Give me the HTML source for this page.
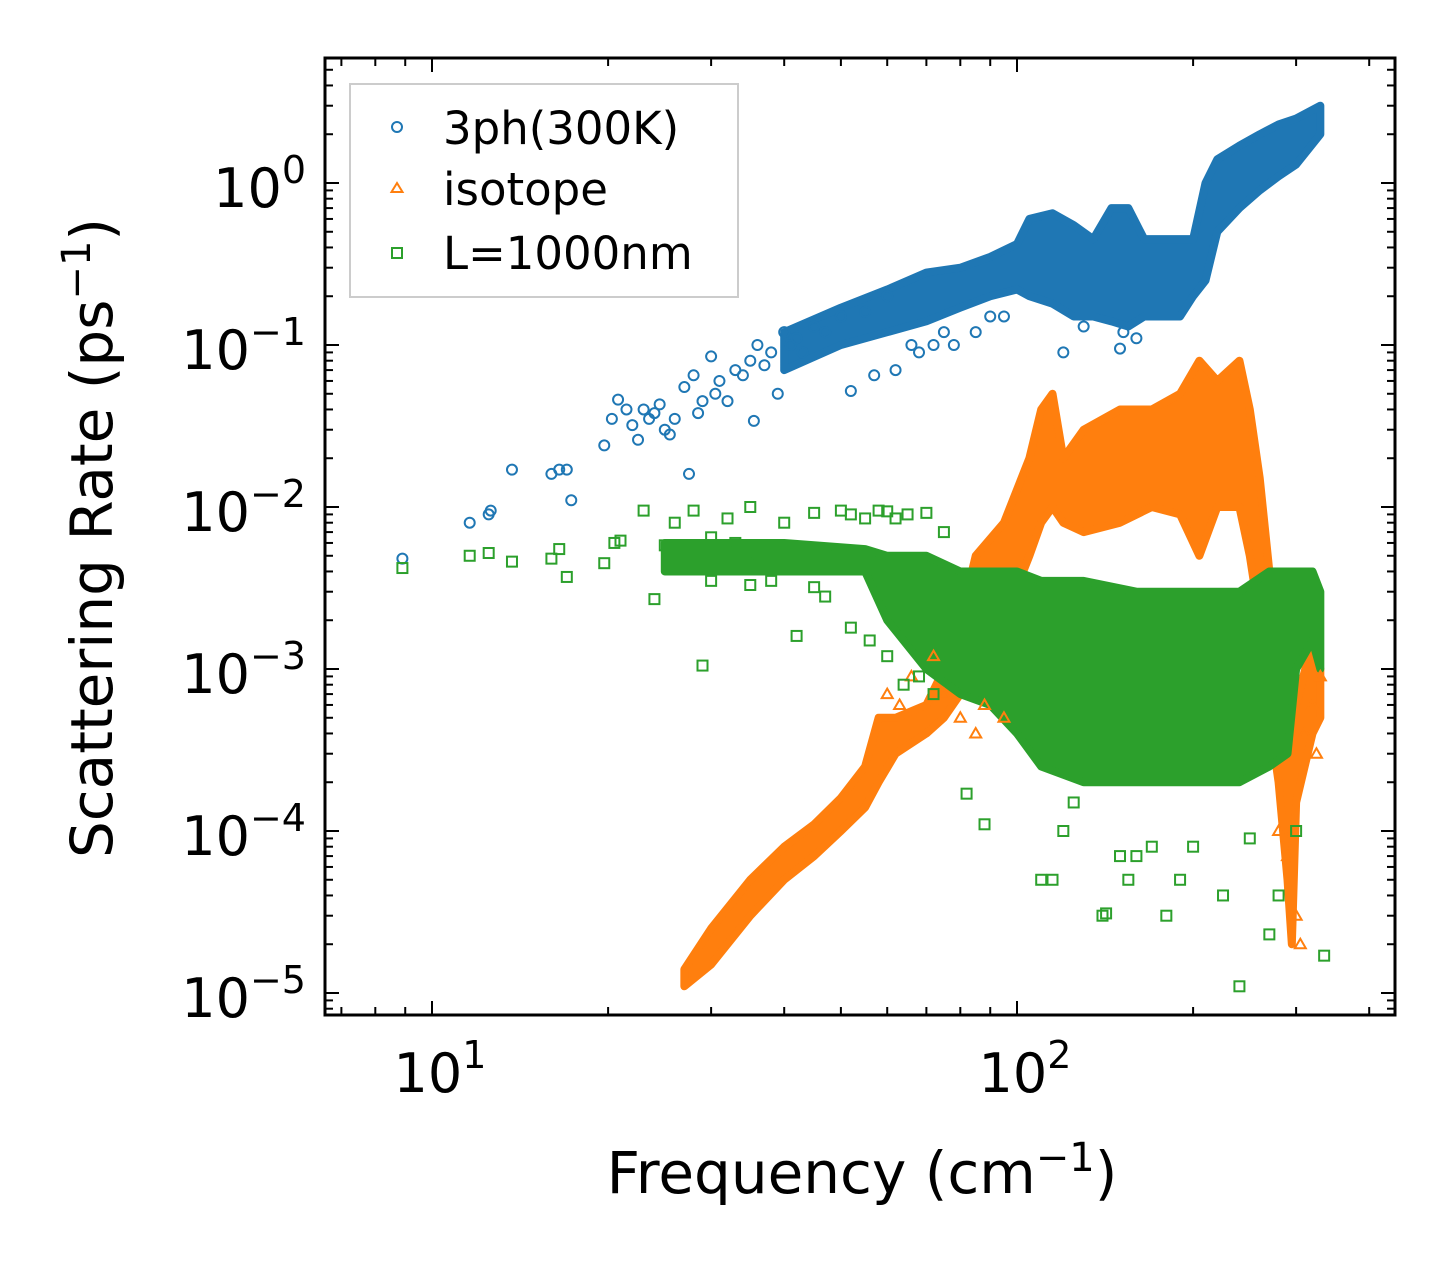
<!DOCTYPE html>
<html><head><meta charset="utf-8">
<style>
html,body{margin:0;padding:0;background:#fff;}
svg{display:block;font-family:"DejaVu Sans","Liberation Sans",sans-serif;}
</style></head>
<body>
<svg id="chart" width="1455" height="1265" viewBox="0 0 1455 1265" xmlns="http://www.w3.org/2000/svg">
<g id="bands"></g>
<g id="pts"></g>
<g id="axes"></g>
<text x="862" y="1193" font-size="58" text-anchor="middle">Frequency (cm<tspan dy="-22" font-size="40">−1</tspan><tspan dy="22">)</tspan></text>
<text transform="translate(112,538) rotate(-90)" font-size="58" text-anchor="middle">Scattering Rate (ps<tspan dy="-22" font-size="40">−1</tspan><tspan dy="22">)</tspan></text>
<g>
<rect x="350" y="84" width="388" height="213" fill="#fff" stroke="#ccc" stroke-width="2"/>
<circle cx="397" cy="127" r="5" fill="none" stroke="#1f77b4" stroke-width="2"/>
<text x="443" y="144" font-size="45">3ph(300K)</text>
<polygon points="397,183 402.5,192 391.5,192" fill="none" stroke="#ff7f0e" stroke-width="2"/>
<text x="443" y="205" font-size="45">isotope</text>
<rect x="392" y="248" width="10" height="10" fill="none" stroke="#2ca02c" stroke-width="2"/>
<text x="443" y="269" font-size="45">L=1000nm</text>
</g>
</svg>
<script>
// ---- data ----
const xTickDecades = [1, 2];
const yTickDecades = [0, -1, -2, -3, -4, -5];
const blueX = [8.9,11.6,12.5,12.6,13.7,16,16.5,17,17.3,19.7,20.3,20.8,21.5,22,22.5,23,23.5,24,24.5,25,25.5,26,27,27.5,28,28.5,29,30,30.5,31,32,33,34,35,35.5,36,37,38,39,40,41,42,43,45,47,50,52,55,57,60,62,66,68,72,75,78,85,90,95,120,130,150,152,160];
const blueY = [0.0048,0.008,0.009,0.0095,0.017,0.016,0.017,0.017,0.011,0.024,0.035,0.046,0.04,0.032,0.026,0.04,0.035,0.038,0.043,0.03,0.028,0.035,0.055,0.016,0.065,0.038,0.045,0.085,0.05,0.06,0.045,0.07,0.065,0.08,0.034,0.1,0.075,0.09,0.05,0.12,0.1,0.11,0.09,0.13,0.12,0.15,0.052,0.16,0.065,0.2,0.07,0.1,0.09,0.1,0.12,0.1,0.12,0.15,0.15,0.09,0.13,0.095,0.12,0.11];
const blueBandX = [40,50,60,70,80,90,100,105,115,125,135,145,155,165,175,190,200,210,220,240,260,280,300,330];
const blueBandLo = [0.07,0.1,0.12,0.14,0.17,0.2,0.22,0.2,0.18,0.15,0.15,0.14,0.13,0.15,0.15,0.15,0.2,0.25,0.5,0.7,0.9,1.1,1.3,2.0];
const blueBandHi = [0.12,0.17,0.22,0.28,0.3,0.35,0.42,0.6,0.65,0.55,0.45,0.7,0.7,0.45,0.45,0.45,0.45,1.0,1.4,1.7,2.0,2.3,2.5,3.0];
const orangeX = [60,63,66,72,75,80,85,88,95,280,290,300,305,310,320,325,330];
const orangeY = [0.0007,0.0006,0.0009,0.0012,0.0007,0.0005,0.0004,0.0006,0.0005,0.0001,0.00007,0.00003,0.00002,0.0004,0.0006,0.0003,0.0009];
const orangeBandX = [27,30,35,40,45,50,55,58,62,70,75,80,85,95,105,110,115,120,130,150,170,190,205,220,240,250,260,270,280,290,295,300,320,330];
const orangeBandLo = [1.1e-5,1.5e-5,3e-5,5e-5,7e-5,1e-4,1.4e-4,2e-4,3e-4,4e-4,5e-4,7e-4,1e-3,2e-3,5e-3,8e-3,1e-2,8e-3,7e-3,8e-3,1e-2,9e-3,5e-3,1e-2,1e-2,5e-3,2e-3,5e-4,2e-4,5e-5,2e-5,1.5e-4,4e-4,5e-4];
const orangeBandHi = [1.4e-5,2.5e-5,5e-5,8e-5,1.1e-4,1.6e-4,2.5e-4,5e-4,5e-4,6e-4,1e-3,2e-3,5e-3,8e-3,2e-2,4e-2,5e-2,2e-2,3e-2,4e-2,4e-2,5e-2,8e-2,6e-2,8e-2,4e-2,1.5e-2,4e-3,2e-3,1e-3,5e-4,6e-4,1.5e-3,1e-3];
const greenX = [8.9,11.6,12.5,13.7,16,16.5,17,19.7,20.5,21,23,24,25,26,28,29,30,32,33,35,36,38,40,42,45,47,50,52,55,58,60,62,65,70,75,82,88,110,115,120,125,140,142,150,155,160,170,180,190,200,225,240,250,270,280,300,335,30,35,45,52,56,60,64,68,72];
const greenY = [0.0042,0.005,0.0052,0.0046,0.0048,0.0055,0.0037,0.0045,0.006,0.0062,0.0095,0.0027,0.0058,0.008,0.0095,0.00105,0.0065,0.0085,0.006,0.01,0.0045,0.0035,0.008,0.0016,0.0092,0.0028,0.0095,0.009,0.0085,0.0095,0.0094,0.0085,0.009,0.0092,0.007,0.00017,0.00011,0.00005,0.00005,0.0001,0.00015,0.00003,0.000031,0.00007,0.00005,0.00007,0.00008,0.00003,0.00005,0.00008,0.00004,0.000011,0.00009,0.000023,0.00004,0.0001,0.000017,0.0035,0.0033,0.0032,0.0018,0.0015,0.0012,0.0008,0.0009,0.0007];
const greenBandX = [25,40,55,60,70,80,90,100,110,130,160,200,240,270,290,300,320,330];
const greenBandLo = [4e-3,4e-3,4e-3,2e-3,1e-3,7e-4,6e-4,4e-4,2.5e-4,2e-4,2e-4,2e-4,2e-4,2.5e-4,3e-4,1e-3,1.5e-3,1e-3];
const greenBandHi = [6e-3,6e-3,5.5e-3,5e-3,5e-3,4e-3,4e-3,4e-3,3.5e-3,3.5e-3,3e-3,3e-3,3e-3,4e-3,4e-3,4e-3,4e-3,3e-3];

// ---- axis functions ----
const L=325,R=1395,T=58,B=1015;
const X=v=>432+(Math.log10(v)-1)*585;
const Y=v=>183-Math.log10(v)*162;
const NS='http://www.w3.org/2000/svg';
function mk(tag,attrs,parent){const e=document.createElementNS(NS,tag);for(const k in attrs)e.setAttribute(k,attrs[k]);parent.appendChild(e);return e;}
const bands=document.getElementById('bands'),pts=document.getElementById('pts'),axes=document.getElementById('axes');

function band(xs,lo,hi,color,name){
  let p=[];
  for(let i=0;i<xs.length;i++)p.push(X(xs[i])+','+Y(hi[i]));
  for(let i=xs.length-1;i>=0;i--)p.push(X(xs[i])+','+Y(lo[i]));
  const e=mk('polygon',{points:p.join(' '),fill:color,stroke:color,'stroke-width':8,'stroke-linejoin':'round'},bands);
  
  
}
function scatter(xs,ys,color,shape,name){
  for(let i=0;i<xs.length;i++){
    const cx=X(xs[i]),cy=Y(ys[i]);let e;
    if(shape==='c')e=mk('circle',{cx:cx,cy:cy,r:5,fill:'none',stroke:color,'stroke-width':2},pts);
    else if(shape==='t')e=mk('polygon',{points:`${cx},${cy-5.5} ${cx+5.5},${cy+4} ${cx-5.5},${cy+4}`,fill:'none',stroke:color,'stroke-width':2},pts);
    else e=mk('rect',{x:cx-5,y:cy-5,width:10,height:10,fill:'none',stroke:color,'stroke-width':2},pts);
    
    
  }
}
band(blueBandX,blueBandLo,blueBandHi,'#1f77b4','band-3ph');
scatter(blueX,blueY,'#1f77b4','c','point-3ph');
band(orangeBandX,orangeBandLo,orangeBandHi,'#ff7f0e','band-isotope');
scatter(orangeX,orangeY,'#ff7f0e','t','point-isotope');
band(greenBandX,greenBandLo,greenBandHi,'#2ca02c','band-l1000');
scatter(greenX,greenY,'#2ca02c','s','point-l1000');

// frame
const fr=mk('rect',{x:L,y:T,width:R-L,height:B-T,fill:'none',stroke:'#000','stroke-width':3},axes);


function tick(x1,y1,x2,y2){mk('line',{x1:x1,y1:y1,x2:x2,y2:y2,stroke:'#000','stroke-width':2},axes);}
for(let d=0;d<=2;d++){for(let m=1;m<10;m++){const v=m*Math.pow(10,d);const x=X(v);if(x<L||x>R)continue;const len=m===1?14:8;tick(x,B,x,B-len);tick(x,T,x,T+len);}}
xTickDecades.forEach(d=>{const t=mk('text',{x:X(Math.pow(10,d))+8,y:1092,'font-size':54,'text-anchor':'middle'},axes);t.innerHTML='10<tspan dy="-24" font-size="38">'+d+'</tspan>';

});
for(let d=-6;d<=0;d++){for(let m=1;m<10;m++){const v=m*Math.pow(10,d);const y=Y(v);if(y<T||y>B)continue;const len=m===1?14:8;tick(L,y,L+len,y);tick(R,y,R-len,y);}}
yTickDecades.forEach(d=>{const t=mk('text',{x:306,y:Y(Math.pow(10,d))+24,'font-size':54,'text-anchor':'end'},axes);t.innerHTML='10<tspan dy="-24" font-size="38">'+(d<0?'−'+(-d):d)+'</tspan>';

});
</script>
</body></html>
